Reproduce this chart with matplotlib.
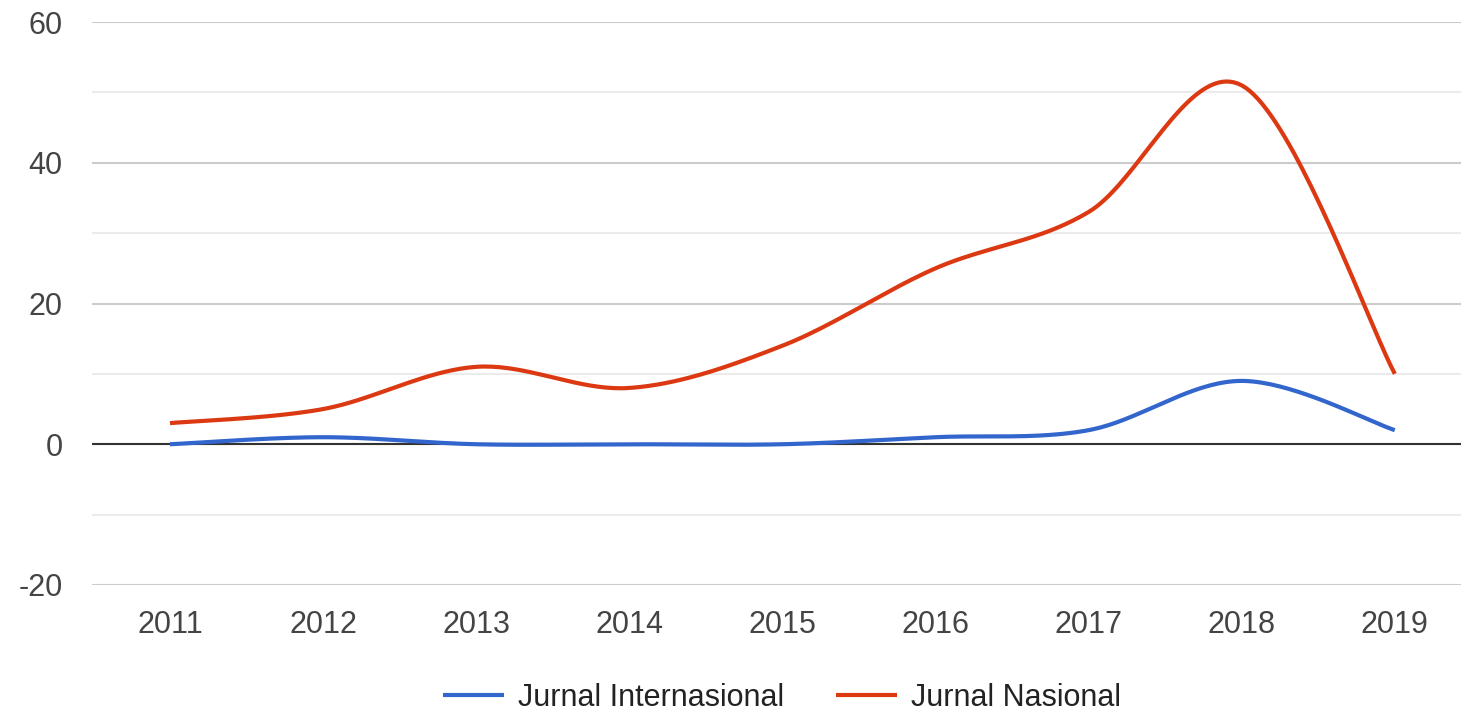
import matplotlib
matplotlib.use("Agg")
import matplotlib.pyplot as plt
import numpy as np

plt.rcParams['font.family'] = ['Liberation Sans', 'DejaVu Sans']
plt.rcParams['axes.unicode_minus'] = False

years = [2011, 2012, 2013, 2014, 2015, 2016, 2017, 2018, 2019]
internasional = [0, 1, 0, 0, 0, 1, 2, 9, 2]
nasional = [3, 5, 11, 8, 14, 25, 33, 51, 10]


def smooth(x, y, n=40):
    # catmull-rom style curve through the points (like curveType 'function')
    x = np.asarray(x, float)
    y = np.asarray(y, float)
    xs, ys = [], []
    for i in range(len(x) - 1):
        x0, x1 = x[i], x[i + 1]
        y0, y1 = y[i], y[i + 1]
        ym = y[i - 1] if i > 0 else y0
        yp = y[i + 2] if i + 2 < len(y) else y1
        xm = x[i - 1] if i > 0 else x0
        xp = x[i + 2] if i + 2 < len(x) else x1
        c1x = x0 + (x1 - xm) / 6
        c1y = y0 + (y1 - ym) / 6
        c2x = x1 - (xp - x0) / 6
        c2y = y1 - (yp - y0) / 6
        t = np.linspace(0, 1, n)
        bx = (1 - t)**3 * x0 + 3 * (1 - t)**2 * t * c1x + 3 * (1 - t) * t**2 * c2x + t**3 * x1
        by = (1 - t)**3 * y0 + 3 * (1 - t)**2 * t * c1y + 3 * (1 - t) * t**2 * c2y + t**3 * y1
        xs.extend(bx)
        ys.extend(by)
    return np.array(xs), np.array(ys)


fig = plt.figure(figsize=(14.61, 7.15), dpi=100)
ax = fig.add_axes([92 / 1461, 1 - 585 / 715, 1 - 92 / 1461, (585 - 22) / 715])

ax.set_ylim(-20, 60)
ax.set_xlim(2011 - 78 / 153.1, 2011 + (1461 - 170) / 153.1)
ax.set_yticks([-20, 0, 20, 40, 60])
ax.set_yticks([-10, 10, 30, 50], minor=True)
ax.set_xticks(years)
ax.set_xticklabels([str(y) for y in years])
ax.grid(True, which='major', axis='y', color='#cccccc', lw=1.5)
ax.grid(True, which='minor', axis='y', color='#ebebeb', lw=1.5)
ax.axhline(0, color='#333333', lw=1.5, zorder=2)
for s in ax.spines.values():
    s.set_visible(False)
ax.tick_params(axis='both', which='both', length=0, labelsize=22, labelcolor='#444444')
ax.tick_params(axis='y', pad=21)
ax.tick_params(axis='x', pad=18)

sx, sy = smooth(years, internasional)
ax.plot(sx, sy, color='#3366cc', lw=3, label='Jurnal Internasional', zorder=3, solid_capstyle='butt')
sx, sy = smooth(years, nasional)
ax.plot(sx, sy, color='#dc3912', lw=3, label='Jurnal Nasional', zorder=3, solid_capstyle='butt')

fig.legend(loc='center', bbox_to_anchor=(0.535, 17 / 715), ncol=2, frameon=False,
           fontsize=22, handlelength=2.0, columnspacing=1.7, handletextpad=0.45,
           labelcolor='#222222', borderpad=0)

fig.savefig('out.png', dpi=100)
